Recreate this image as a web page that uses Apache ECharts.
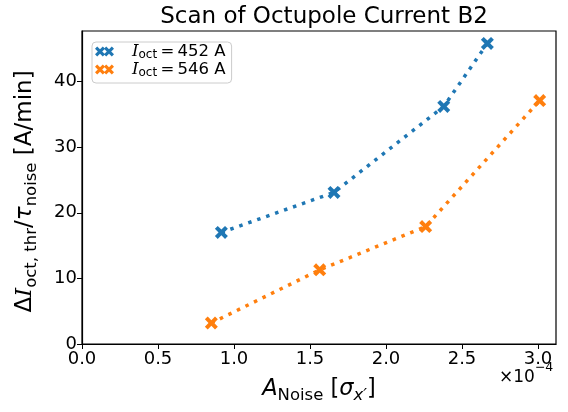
<!DOCTYPE html>
<html>
<head>
<meta charset="utf-8">
<script src="https://cdn.jsdelivr.net/npm/echarts@6/dist/echarts.min.js"></script>
<style>
  html, body { margin: 0; padding: 0; background: #fff; }
  #chart { width: 568px; height: 412px; }
</style>
</head>
<body>
<div id="chart"></div>
<script>
// Noise amplitude in units of 1e-4 sigma_x'
const ampLow = [0.917, 1.658, 2.38, 2.667];
const rateLow = [17.0, 23.1, 36.2, 45.8];
const ampHigh = [0.851, 1.564, 2.261, 3.011];
const rateHigh = [3.2, 11.3, 17.9, 37.1];
const currents = [452, 546];
const colors = ['#1f77b4', '#ff7f0e'];

const xMax = 3.1185, yMax = 47.7;

// filled "X" marker, arms of width d inside a 10x10 box centred at cx
function xPath(cx, d) {
  const p = [
    [cx - 5, d], [cx - 5 + d, 0], [cx, 5 - d], [cx + 5 - d, 0], [cx + 5, d], [cx + d, 5],
    [cx + 5, 10 - d], [cx + 5 - d, 10], [cx, 5 + d], [cx - 5 + d, 10], [cx - 5, 10 - d], [cx - d, 5]
  ];
  return 'M' + p.map(q => q[0] + ',' + q[1]).join(' L') + ' Z';
}
const xMarker = 'path://' + xPath(5, 2.2);
// legend handle: two overlapping markers
const xLegend = 'path://' + xPath(5, 2.2) + ' ' + xPath(14, 2.2);

const sans = 'DejaVu Sans';
const rich = {
  n: { fontFamily: sans, fontSize: 16.5, color: '#000', lineHeight: 19, verticalAlign: 'middle' },
  i: { fontFamily: 'DejaVu Serif', fontStyle: 'italic', fontSize: 16.5, color: '#000', lineHeight: 19, verticalAlign: 'middle' },
  s: { fontFamily: sans, fontSize: 12, color: '#000', lineHeight: 12, verticalAlign: 'bottom' }
};
const bigRich = {
  n: { fontFamily: sans, fontSize: 23, color: '#000', lineHeight: 30, verticalAlign: 'middle' },
  o: { fontFamily: sans, fontStyle: 'italic', fontSize: 23, color: '#000', lineHeight: 30, verticalAlign: 'middle' },
  i: { fontFamily: 'DejaVu Serif', fontStyle: 'italic', fontSize: 23, color: '#000', lineHeight: 30, verticalAlign: 'middle' },
  s: { fontFamily: sans, fontSize: 16.5, color: '#000', lineHeight: 15, verticalAlign: 'bottom' },
  so: { fontFamily: sans, fontStyle: 'italic', fontSize: 16.5, color: '#000', lineHeight: 15, verticalAlign: 'bottom' }
};
const xRich = Object.assign({}, bigRich, {
  n: Object.assign({}, bigRich.n, { fontSize: 22.5 }),
  o: Object.assign({}, bigRich.o, { fontSize: 22.5 })
});

function pairs(xs, ys) { return xs.map((x, k) => [x, ys[k]]); }

const names = currents.map(c => 'I_oct = ' + c + ' A');

const chart = echarts.init(document.getElementById('chart'), null, { renderer: 'canvas' });
chart.setOption({
  animation: false,
  backgroundColor: '#fff',
  title: {
    text: 'Scan of Octupole Current B2',
    left: 319, top: 1, textAlign: 'center',
    textStyle: { fontFamily: sans, fontSize: 23, fontWeight: 'normal', color: '#000' }
  },
  grid: { left: 82, right: 12, top: 31, bottom: 68, show: true, borderColor: '#000', borderWidth: 1.2, backgroundColor: 'transparent' },
  legend: {
    left: 92, top: 42, orient: 'vertical',
    padding: [1, 6, 4, 3], itemGap: 0, itemWidth: 19, itemHeight: 10,
    borderColor: '#ccc', borderWidth: 1, borderRadius: 4, backgroundColor: 'rgba(255,255,255,0.8)',
    data: names.map((n, k) => ({ name: n, icon: xLegend, itemStyle: { color: colors[k] } })),
    formatter: function (name) {
      const c = name.split('= ')[1];
      return '{i|I}{s|oct}{n|\u2009=\u2009' + c + '}';
    },
    textStyle: { rich: rich, padding: [0, 0, 0, 13] }
  },
  xAxis: {
    type: 'value', min: 0, max: xMax, interval: 0.5,
    name: '{o|A}{s|Noise}{n| [}{o|σ}{so|x′}{n|]}',
    nameLocation: 'middle', nameGap: 30,
    nameTextStyle: { rich: xRich },
    axisLine: { show: true, lineStyle: { color: '#000', width: 1.2 } },
    axisTick: { show: true, inside: false, length: 5, lineStyle: { color: '#000' } },
    axisLabel: { showMaxLabel: false, fontFamily: sans, fontSize: 18, color: '#000', margin: 6,
      formatter: v => v.toFixed(1) },
    splitLine: { show: false }
  },
  yAxis: {
    type: 'value', min: 0, max: yMax, interval: 10,
    name: '{n|Δ}{i|I}{s|oct, thr}{n|/}{o|τ}{s|noise}{n| [A/min]}',
    nameLocation: 'middle', nameGap: 42, nameRotate: 90,
    nameTextStyle: { rich: bigRich, padding: [0, 8, 0, 0] },
    axisLine: { show: true, lineStyle: { color: '#000', width: 1.2 } },
    axisTick: { show: true, inside: false, length: 5, lineStyle: { color: '#000' } },
    axisLabel: { showMaxLabel: false, fontFamily: sans, fontSize: 18, color: '#000', margin: 5 },
    splitLine: { show: false }
  },
  graphic: [{
    type: 'text', left: 499, top: 361,
    style: {
      text: '{n|×10}{e|−4}',
      rich: {
        n: { fontFamily: sans, fontSize: 17, color: '#000', lineHeight: 25, verticalAlign: 'bottom' },
        e: { fontFamily: sans, fontSize: 12.5, color: '#000', lineHeight: 25, verticalAlign: 'top' }
      }
    }
  }],
  series: [
    { name: names[0], type: 'line', data: pairs(ampLow, rateLow), symbol: xMarker, symbolSize: 13,
      itemStyle: { color: colors[0] }, lineStyle: { color: colors[0], width: 3.5, type: [3.5, 6] } },
    { name: names[1], type: 'line', data: pairs(ampHigh, rateHigh), symbol: xMarker, symbolSize: 13,
      itemStyle: { color: colors[1] }, lineStyle: { color: colors[1], width: 3.5, type: [3.5, 6] } }
  ]
});
</script>
</body>
</html>
